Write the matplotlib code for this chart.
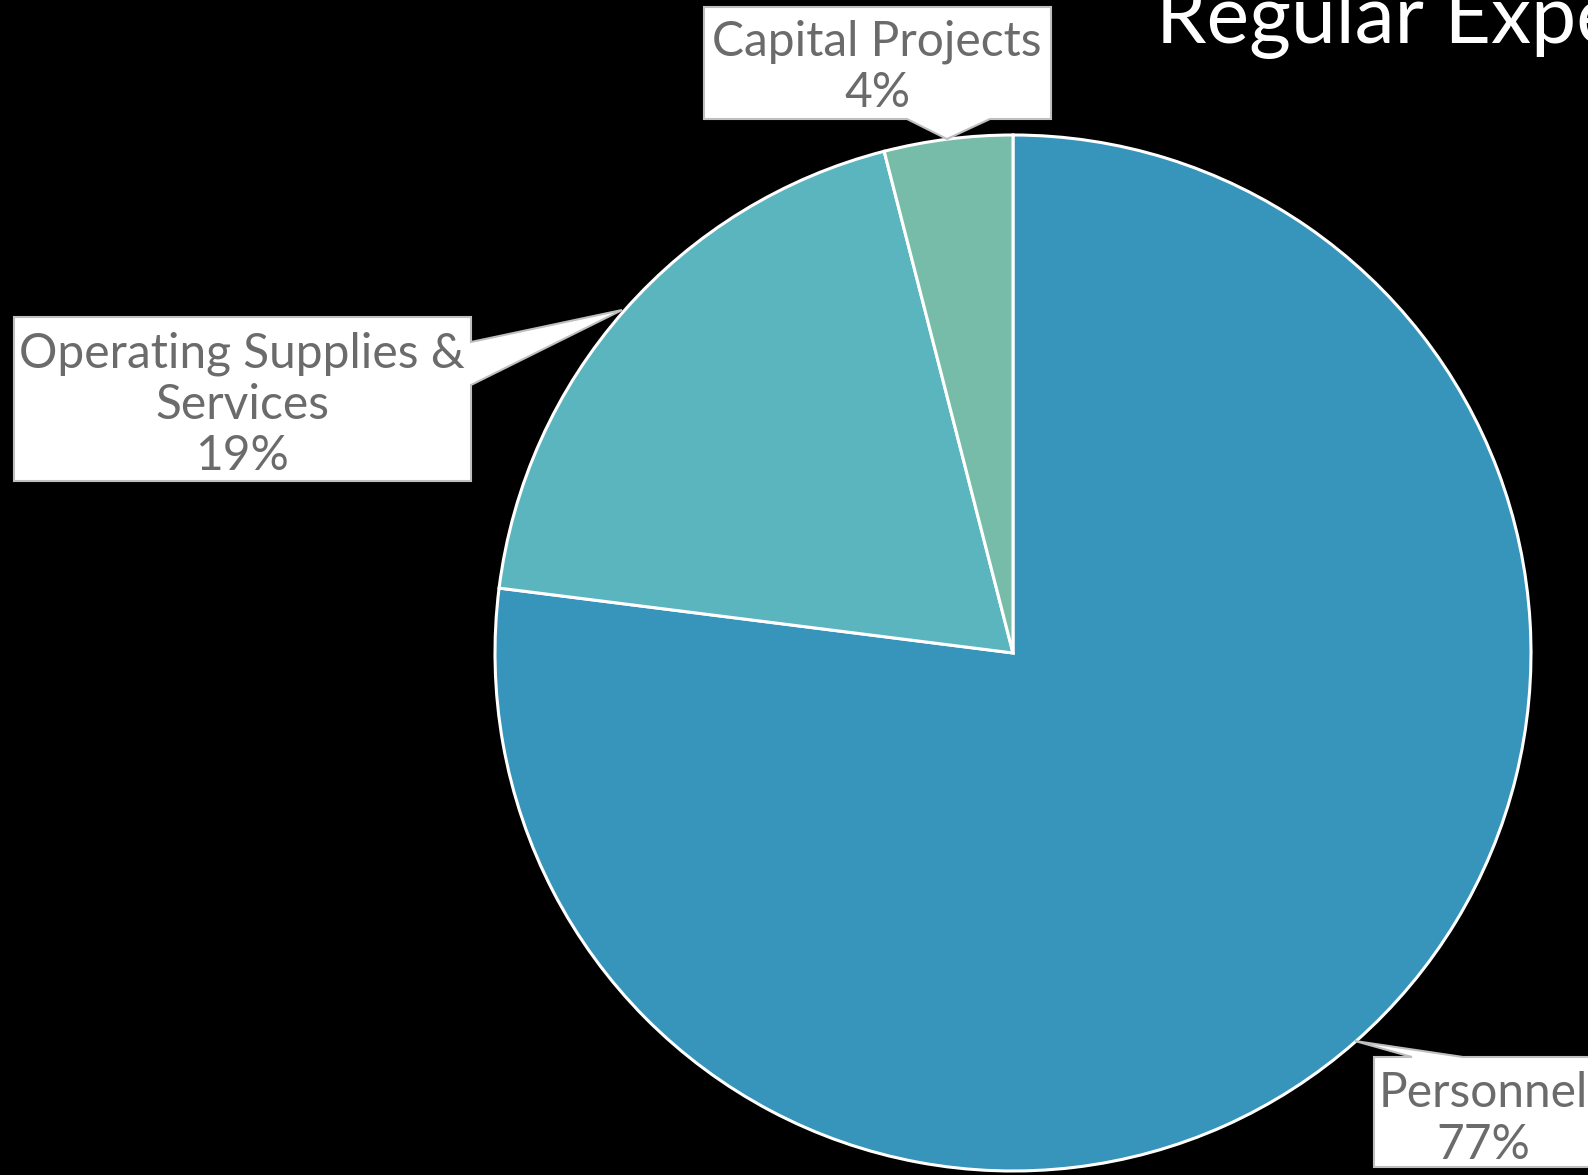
import matplotlib.pyplot as plt
from matplotlib.patches import Polygon

W, H = 1588, 1175

categories = ["Personnel", "Operating Supplies &\nServices", "Capital Projects"]
shares = [77, 19, 4]
colors = ["#3794BA", "#5BB5BF", "#77BCA8"]
title = "Regular Expenditures"

label_color = "#6B6B6B"
box_edge = "#BFBFBF"


def px(x, y):
    # pixel coords measured from top-left -> data coords (y up)
    return (x, H - y)


def callout(ax, verts):
    poly = Polygon([px(x, y) for x, y in verts], closed=True,
                   facecolor="white", edgecolor=box_edge, linewidth=1.5, zorder=5)
    ax.add_patch(poly)


fig = plt.figure(figsize=(W / 100, H / 100), dpi=100, facecolor="black")
ax = fig.add_axes([0, 0, 1, 1])
ax.set_facecolor("black")

ax.pie(shares, colors=colors, startangle=90, counterclock=False,
       center=px(1013, 653), radius=518,
       wedgeprops=dict(edgecolor="white", linewidth=2.2))

ax.set_xlim(0, W)
ax.set_ylim(0, H)
ax.set_aspect("equal")
ax.axis("off")

# label boxes with pointer wedges
callout(ax, [(1374, 1057), (1412, 1057), (1355, 1041), (1463, 1057),
             (1600, 1057), (1600, 1167), (1374, 1167)])
callout(ax, [(14, 317), (471, 317), (471, 342), (622, 310), (471, 385),
             (471, 481), (14, 481)])
callout(ax, [(704, 7), (1051, 7), (1051, 119), (990, 119), (947, 139),
             (907, 119), (704, 119)])

font = ["Lato", "DejaVu Sans"]
label_pos = [(1483, 1119), (242, 405), (877, 67)]
for name, val, (x, y) in zip(categories, shares, label_pos):
    ax.text(*px(x, y), f"{name}\n{val}%", ha="center", va="center",
            fontsize=34.5, color=label_color, family=font,
            linespacing=1.2, zorder=6)

ax.text(*px(1156, 43), title, ha="left", va="baseline", fontsize=58,
        color="white", family=font)

fig.savefig("out.png", dpi=100, facecolor="black")
